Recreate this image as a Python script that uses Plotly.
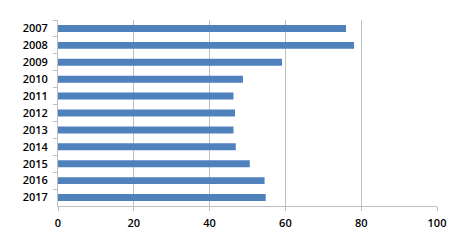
import plotly.graph_objects as go

years = ["2007", "2008", "2009", "2010", "2011", "2012", "2013", "2014", "2015", "2016", "2017"]
values = [76.0, 78.1, 59.1, 48.8, 46.3, 46.7, 46.3, 46.9, 50.6, 54.5, 54.8]
x_ticks = [0, 20, 40, 60, 80, 100]

fig = go.Figure(go.Bar(
    y=years, x=values, orientation="h",
    marker=dict(color="#4F81BD", line=dict(width=0)),
))

tf = dict(family="Open Sans", size=11, color="#000000", weight=600)

fig.update_layout(
    width=458, height=242,
    margin=dict(l=58, r=18, t=20, b=34),
    paper_bgcolor="white", plot_bgcolor="white",
    bargap=0.59,
    showlegend=False,
    font=dict(family="Open Sans", size=11, color="#000000"),
)
fig.update_xaxes(
    range=[0, 100], tickvals=x_ticks,
    showgrid=True, gridcolor="#BFBFBF", gridwidth=1,
    showline=True, linecolor="#BFBFBF", linewidth=1,
    ticks="outside", ticklen=4, tickcolor="#BFBFBF",
    zeroline=False,
    ticklabelstandoff=3,
    tickfont=tf,
)
fig.update_yaxes(
    type="category", autorange="reversed",
    showgrid=False,
    showline=True, linecolor="#BFBFBF", linewidth=1,
    ticks="outside", ticklen=4, tickcolor="#BFBFBF",
    tickson="boundaries",
    ticklabelstandoff=7,
    tickfont=tf,
)

fig.write_html("out.html")
